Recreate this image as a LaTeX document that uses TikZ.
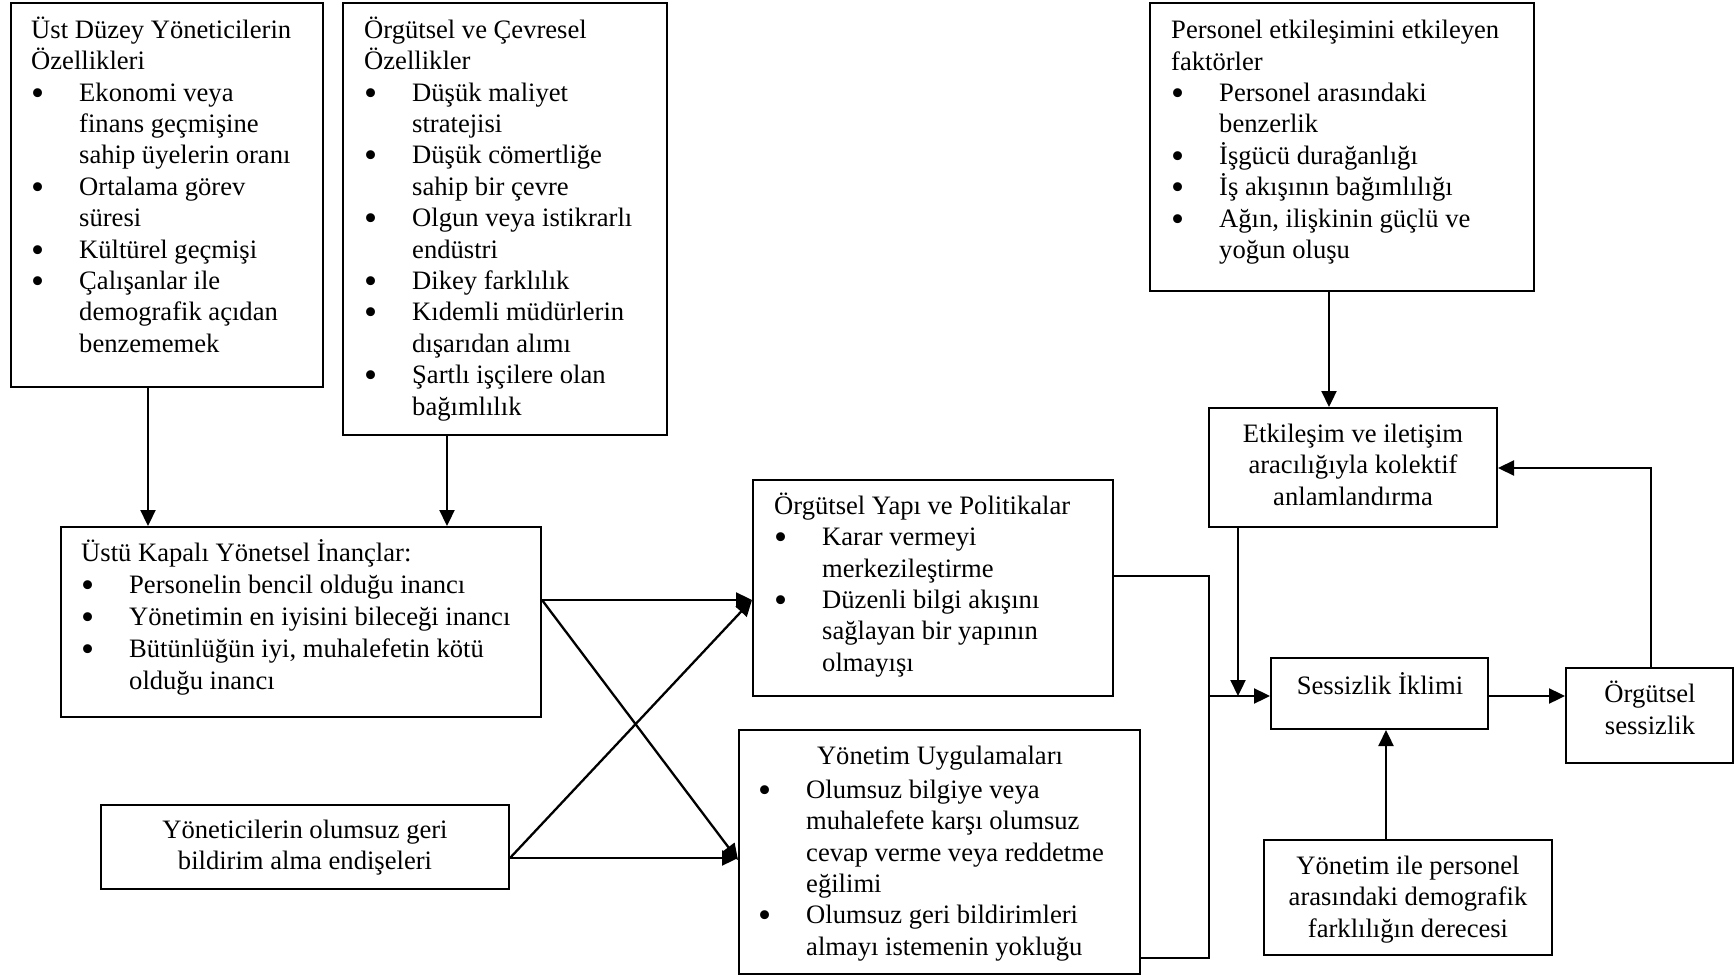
\documentclass[tikz,border=0pt]{standalone}
\usepackage{fontspec}
\setmainfont{Liberation Serif}
\usetikzlibrary{arrows.meta}

% first-line strut, bullet and hanging indent for the lists
\newcommand\fl{\rule{0pt}{24pt}}
\newcommand\blt{\makebox[48pt][l]{\raisebox{-4pt}{\scalebox{1.4}{\textbullet}}}}
\newcommand\ind{\hspace*{48pt}}

\begin{document}
\begin{tikzpicture}[x=1pt,y=-1pt,
  box/.style={draw, line width=2pt, inner sep=0pt, rectangle},
  txt/.style={inner sep=0pt, align=left, anchor=north west,
              font=\fontsize{26.6}{31.4}\selectfont},
  ctxt/.style={txt, align=center, anchor=north},
  conn/.style={line width=2.3pt},
  arr/.style={conn, -{Triangle[length=16pt,width=15pt]}}]

\useasboundingbox (0,0) rectangle (1735,976);

% boxes
\node[box, minimum width=312pt, minimum height=384pt] (a) at (167,195) {};
\node[box, minimum width=324pt, minimum height=432pt] (b) at (505,219) {};
\node[box, minimum width=384pt, minimum height=288pt] (c) at (1342,147) {};
\node[box, minimum width=480pt, minimum height=190pt] (d) at (301,622) {};
\node[box, minimum width=408pt, minimum height=84pt]  (e) at (305,847) {};
\node[box, minimum width=360pt, minimum height=216pt] (f) at (933,588) {};
\node[box, minimum width=401pt, minimum height=244pt] (g) at (939.5,852) {};
\node[box, minimum width=288pt, minimum height=119pt] (h) at (1353,467.5) {};
\node[box, minimum width=217pt, minimum height=71pt]  (i) at (1379.5,693.5) {};
\node[box, minimum width=167pt, minimum height=95pt]  (j) at (1649.5,715.5) {};
\node[box, minimum width=288pt, minimum height=115pt] (k) at (1408,897.5) {};

% texts
\node[txt] (ta) at (31,14) {\fl Üst Düzey Yöneticilerin\\Özellikleri\\
\blt Ekonomi veya\\\ind finans geçmişine\\\ind sahip üyelerin oranı\\
\blt Ortalama görev\\\ind süresi\\
\blt Kültürel geçmişi\\
\blt Çalışanlar ile\\\ind demografik açıdan\\\ind benzememek};

\node[txt] (tb) at (364,14) {\fl Örgütsel ve Çevresel\\Özellikler\\
\blt Düşük maliyet\\\ind stratejisi\\
\blt Düşük cömertliğe\\\ind sahip bir çevre\\
\blt Olgun veya istikrarlı\\\ind endüstri\\
\blt Dikey farklılık\\
\blt Kıdemli müdürlerin\\\ind dışarıdan alımı\\
\blt Şartlı işçilere olan\\\ind bağımlılık};

\node[txt] (tc) at (1171,14.5) {\fl Personel etkileşimini etkileyen\\faktörler\\
\blt Personel arasındaki\\\ind benzerlik\\
\blt İşgücü durağanlığı\\
\blt İş akışının bağımlılığı\\
\blt Ağın, ilişkinin güçlü ve\\\ind yoğun oluşu};

\node[txt, font=\fontsize{26.6}{32}\selectfont] (td) at (81,537) {\fl Üstü Kapalı Yönetsel İnançlar:\\
\blt Personelin bencil olduğu inancı\\
\blt Yönetimin en iyisini bileceği inancı\\
\blt Bütünlüğün iyi, muhalefetin kötü\\\ind olduğu inancı};

\node[ctxt] (te) at (305,814) {\fl Yöneticilerin olumsuz geri\\bildirim alma endişeleri};

\node[txt] (tf) at (774,490) {\fl Örgütsel Yapı ve Politikalar\\
\blt Karar vermeyi\\\ind merkezileştirme\\
\blt Düzenli bilgi akışını\\\ind sağlayan bir yapının\\\ind olmayışı};

\node[ctxt] (tg) at (940,740.5) {\fl Yönetim Uygulamaları};
\node[txt] (tg2) at (758,774) {\fl
\blt Olumsuz bilgiye veya\\\ind muhalefete karşı olumsuz\\\ind cevap verme veya reddetme\\\ind eğilimi\\
\blt Olumsuz geri bildirimleri\\\ind almayı istemenin yokluğu};

\node[ctxt] (th) at (1353,418) {\fl Etkileşim ve iletişim\\aracılığıyla kolektif\\anlamlandırma};
\node[ctxt] (ti) at (1380,670) {\fl Sessizlik İklimi};
\node[ctxt, font=\fontsize{26.6}{32}\selectfont] (tj) at (1650,678) {\fl Örgütsel\\sessizlik};
\node[ctxt] (tk) at (1408,850) {\fl Yönetim ile personel\\arasındaki demografik\\farklılığın derecesi};

% junction points of the collecting line
\coordinate (jt) at (1209,576);
\coordinate (jb) at (1209,958);
\coordinate (jn) at (1209,696);
\coordinate (hj) at (1238,696);
\coordinate (fb) at (1651,468);

% connectors
\draw[arr] (148,0 |- a.south) -- (148,0 |- d.north);
\draw[arr] (447,0 |- b.south) -- (447,0 |- d.north);
\draw[arr] (1329,0 |- c.south) -- (1329,0 |- h.north);

\draw[arr] (d.east |- 0,600) -- (f.west |- 0,600);
\draw[arr] (d.east |- 0,600) -- (g.west |- 0,860);
\draw[arr] (e.east |- 0,858) -- (f.west |- 0,600);
\draw[arr] (e.east |- 0,858) -- (g.west |- 0,858);

\draw[conn] (f.east |- jt) -- (jt) -- (jb) -- (g.east |- jb);
\draw[arr] (jn) -- (i.west |- jn);
\draw[arr] (1238,0 |- h.south) -- (hj);
\draw[arr] (i.east |- 0,696) -- (j.west |- 0,696);
\draw[arr] (1651,0 |- j.north) -- (fb) -- (h.east |- fb);
\draw[arr] (1386,0 |- k.north) -- (1386,0 |- i.south);

\end{tikzpicture}
\end{document}
